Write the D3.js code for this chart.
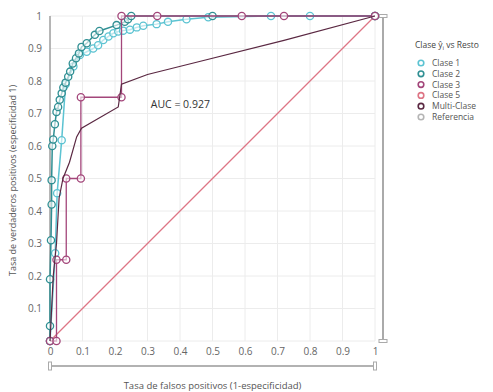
<!DOCTYPE html>
<html>
<head>
<meta charset="utf-8">
<script src="https://cdn.jsdelivr.net/npm/d3@7"></script>
<style>
  body { margin: 0; background: #fff; }
  text { font-family: "Open Sans", "Noto Sans", sans-serif; }
</style>
</head>
<body>
<script>
// datos (tasa FP / tasa VP)
const clase1X = [0, 0.016, 0.022, 0.036, 0.048, 0.072, 0.092, 0.113, 0.133, 0.148, 0.164, 0.18, 0.195, 0.21, 0.225, 0.246, 0.267, 0.287, 0.328, 0.363, 0.42, 0.487, 0.68, 0.8, 1];
const clase1Y = [0, 0.27, 0.455, 0.618, 0.79, 0.845, 0.88, 0.89, 0.9, 0.91, 0.926, 0.937, 0.947, 0.952, 0.955, 0.958, 0.965, 0.97, 0.975, 0.982, 0.99, 0.996, 1, 1, 1];

const clase2X = [0, 0, 0, 0.003, 0.005, 0.005, 0.007, 0.01, 0.015, 0.02, 0.025, 0.03, 0.036, 0.041, 0.048, 0.056, 0.062, 0.07, 0.08, 0.089, 0.097, 0.113, 0.138, 0.152, 0.205, 0.23, 0.24, 0.25, 0.5, 1];
const clase2Y = [0, 0.046, 0.19, 0.31, 0.42, 0.495, 0.6, 0.62, 0.667, 0.705, 0.72, 0.742, 0.762, 0.78, 0.795, 0.813, 0.829, 0.854, 0.87, 0.885, 0.905, 0.916, 0.942, 0.954, 0.972, 0.982, 0.99, 1, 1, 1];

const clase3X = [0, 0.02, 0.02, 0.05, 0.05, 0.095, 0.095, 0.22, 0.22, 0.33, 0.59, 0.72, 1];
const clase3Y = [0, 0, 0.25, 0.25, 0.5, 0.5, 0.75, 0.75, 1, 1, 1, 1, 1];

const clase5X = [0, 1];
const clase5Y = [0, 1];

const multiX = [0, 0.005, 0.01, 0.02, 0.028, 0.04, 0.06, 0.082, 0.097, 0.21, 0.22, 0.3, 0.46, 0.72, 1];
const multiY = [0, 0.1, 0.2, 0.3, 0.44, 0.5, 0.55, 0.628, 0.655, 0.72, 0.79, 0.82, 0.86, 0.925, 1];

const xTicks = [0, 0.1, 0.2, 0.3, 0.4, 0.5, 0.6, 0.7, 0.8, 0.9, 1];
const yTicks = [0.1, 0.2, 0.3, 0.4, 0.5, 0.6, 0.7, 0.8, 0.9, 1];

const legendNames = ["Clase 1", "Clase 2", "Clase 3", "Clase 5", "Multi-Clase", "Referencia"];
const colores = ["#5cc3d2", "#2f8f93", "#a3467a", "#de7585", "#5a2842", "#b5b5b5"];

const aucTexto = "AUC = 0.927";

const WIDTH = 493, HEIGHT = 392;
const m = {left: 50, top: 16, w: 325, h: 325};

const svg = d3.select("body").append("svg")
    .attr("width", WIDTH)
    .attr("height", HEIGHT);

const x = d3.scaleLinear().domain([0, 1]).range([m.left, m.left + m.w]);
const y = d3.scaleLinear().domain([0, 1]).range([m.top + m.h, m.top]);

// rejilla
const grid = svg.append("g");
grid.selectAll("line.vx").data(xTicks).enter().append("line")
    .attr("x1", d => x(d)).attr("x2", d => x(d))
    .attr("y1", y(0)).attr("y2", y(1))
    .attr("stroke", "#ececec").attr("stroke-width", 1);
grid.selectAll("line.hy").data([0].concat(yTicks)).enter().append("line")
    .attr("x1", x(0)).attr("x2", x(1))
    .attr("y1", d => y(d)).attr("y2", d => y(d))
    .attr("stroke", "#ececec").attr("stroke-width", 1);

// ejes (solo etiquetas)
const xAxis = svg.append("g")
    .attr("transform", `translate(0,${y(0) + 4})`)
    .call(d3.axisBottom(x).tickValues(xTicks).tickSize(0).tickFormat(d3.format("~g")));
xAxis.select(".domain").remove();
xAxis.selectAll("text").attr("fill", "#666").attr("font-size", 10);

const yAxis = svg.append("g")
    .attr("transform", `translate(${x(0) - 5},0)`)
    .call(d3.axisLeft(y).tickValues(yTicks).tickSize(0).tickFormat(d3.format("~g")));
yAxis.select(".domain").remove();
yAxis.selectAll("text").attr("fill", "#666").attr("font-size", 10);

// linea del eje y
svg.append("line")
    .attr("x1", x(0)).attr("x2", x(0))
    .attr("y1", y(0)).attr("y2", y(1))
    .attr("stroke", "#777").attr("stroke-width", 1);

// "sliders" de rango
svg.append("line")
    .attr("x1", x(0)).attr("x2", x(1))
    .attr("y1", 366).attr("y2", 366)
    .attr("stroke", "#999").attr("stroke-width", 1.5);
[0, 1].forEach(v => {
    svg.append("rect")
        .attr("x", x(v) - 1.5).attr("y", 362).attr("width", 3).attr("height", 8)
        .attr("fill", "#fff").attr("stroke", "#aaa").attr("stroke-width", 1);
});
svg.append("line")
    .attr("x1", 383).attr("x2", 383)
    .attr("y1", y(1)).attr("y2", y(0))
    .attr("stroke", "#aaa").attr("stroke-width", 2);
[0, 1].forEach(v => {
    svg.append("rect")
        .attr("x", 379).attr("y", y(v) - 1.5).attr("width", 8).attr("height", 3)
        .attr("fill", "#fff").attr("stroke", "#aaa").attr("stroke-width", 1);
});

// series
const series = [
    {name: "Clase 5", xs: clase5X, ys: clase5Y, color: colores[3], markers: true, w: 1.2},
    {name: "Clase 1", xs: clase1X, ys: clase1Y, color: colores[0], markers: true, w: 1.5},
    {name: "Clase 2", xs: clase2X, ys: clase2Y, color: colores[1], markers: true, w: 1.5},
    {name: "Clase 3", xs: clase3X, ys: clase3Y, color: colores[2], markers: true, w: 1.3},
    {name: "Multi-Clase", xs: multiX, ys: multiY, color: colores[4], markers: false, w: 1.2}
];

const line = d3.line().x(d => x(d[0])).y(d => y(d[1]));

series.forEach(s => {
    const pts = s.xs.map((v, i) => [v, s.ys[i]]);
    const g = svg.append("g").attr("class", "serie");
    g.append("path")
        .datum(pts)
        .attr("d", line)
        .attr("fill", "none")
        .attr("stroke", s.color)
        .attr("stroke-width", s.w);
    if (s.markers) {
        g.selectAll("circle").data(pts).enter().append("circle")
            .attr("cx", d => x(d[0]))
            .attr("cy", d => y(d[1]))
            .attr("r", 3.6)
            .attr("fill", "rgba(255,255,255,0.6)")
            .attr("stroke", s.color)
            .attr("stroke-width", 1.3);
    }
});

// anotación AUC
svg.append("text")
    .attr("x", x(0.31)).attr("y", y(0.73) + 4)
    .attr("font-size", 10.5)
    .attr("fill", "#333")
    .text(aucTexto);

// leyenda
const leg = svg.append("g");
const title = leg.append("text")
    .attr("x", 415).attr("y", 48)
    .attr("font-size", 8.5)
    .attr("fill", "#444");
title.append("tspan").text("Clase ");
title.append("tspan").text("ŷ");
title.append("tspan").attr("font-size", 6).attr("dy", 2).text("i");
title.append("tspan").attr("dy", -2).text(" vs Resto");

legendNames.forEach((n, i) => {
    const cy = 63 + i * 10.8;
    leg.append("circle")
        .attr("cx", 421).attr("cy", cy).attr("r", 2.8)
        .attr("fill", "#fff")
        .attr("stroke", colores[i])
        .attr("stroke-width", 1.6);
    leg.append("text")
        .attr("x", 432).attr("y", cy + 3)
        .attr("font-size", 8.5)
        .attr("fill", "#555")
        .text(n);
});

// titulos de ejes
svg.append("text")
    .attr("x", x(0.5)).attr("y", 389)
    .attr("text-anchor", "middle")
    .attr("font-size", 9.5)
    .attr("fill", "#555")
    .text("Tasa de falsos positivos (1-especificidad)");

svg.append("text")
    .attr("transform", `translate(16,${y(0.5) + 2}) rotate(-90)`)
    .attr("text-anchor", "middle")
    .attr("font-size", 9)
    .attr("fill", "#555")
    .text("Tasa de verdaderos positivos (especificidad 1)");
</script>
</body>
</html>
